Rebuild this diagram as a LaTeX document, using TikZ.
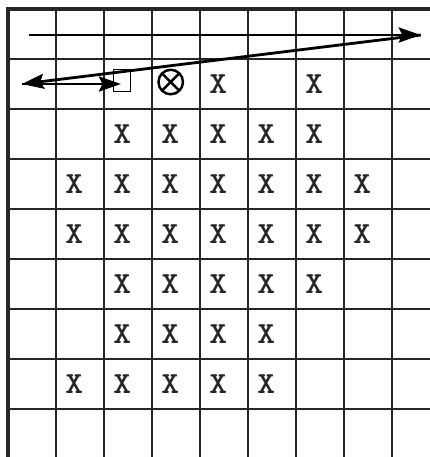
\documentclass[tikz,border=0pt]{standalone}
\usetikzlibrary{arrows.meta}
\begin{document}
\begin{tikzpicture}[x=0.96cm, y=-1cm,
    gridline/.style={line width=0.95pt, black!85},
    border/.style={line width=1.8pt, black!85},
    scan/.style={line width=1.6pt, -{Stealth[length=0.44cm,width=0.3cm,inset=0.07cm]}},
    cellx/.style={font=\ttfamily\bfseries\fontsize{17.5}{17.5}\selectfont, inner sep=0pt, xscale=1.1, black!85},
    target/.style={draw, line width=0.8pt, minimum width=0.34cm, minimum height=0.44cm, inner sep=0pt},
    crossring/.style={circle, draw, line width=1.4pt, minimum size=0.49cm, inner sep=0pt,
        path picture={\draw[line width=1.4pt]
            (path picture bounding box.north west) -- (path picture bounding box.south east)
            (path picture bounding box.north east) -- (path picture bounding box.south west);}}]
    \useasboundingbox (-0.1667,-0.18) rectangle (8.79,8.96);
    \foreach \c in {1,...,8}
        \draw[gridline] (\c,0) -- (\c,8.96);
    \foreach \r in {1,...,8}
        \draw[gridline] (0,\r) -- (8.79,\r);
    \draw[border] (0,8.96) -- (0,0) -- (8.79,0);
    \node[target] (target) at (2.38,1.43) {};
    \node[crossring] (sensor) at (3.39,1.46) {};
    \foreach \r/\cols in {1/{4,6}, 2/{2,...,6}, 3/{1,...,7}, 4/{1,...,7},
                          5/{2,...,6}, 6/{2,...,5}, 7/{1,...,5}}
        \foreach \c in \cols
            \node[cellx] (x-\r-\c) at (\c+0.38,\r+0.5) {X};
    \coordinate (linestart) at (0.4375,0.52);
    \coordinate (lineend) at (8.6,0.52);
    \coordinate (retrace) at (0.29,1.5);
    \draw[scan] (linestart) -- (lineend);
    \draw[scan] (lineend) -- (retrace);
    \draw[scan, shorten >=-4.5pt] (retrace) -- (retrace -| target.west);
\end{tikzpicture}
\end{document}
